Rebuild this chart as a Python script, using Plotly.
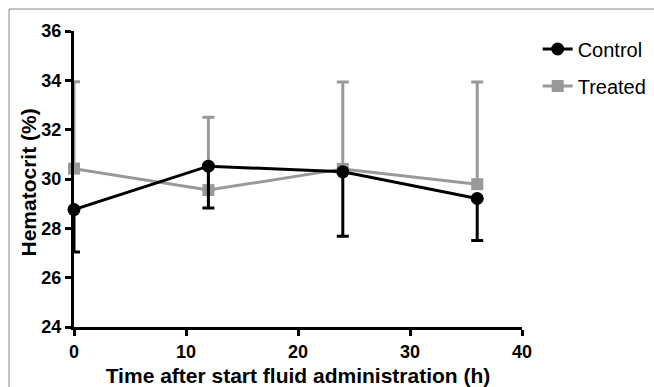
import plotly.graph_objects as go

time_h = [0, 12, 24, 36]
control_mean = [28.76, 30.52, 30.29, 29.21]
control_err_lower = [1.72, 1.70, 2.61, 1.70]
treated_mean = [30.42, 29.55, 30.41, 29.79]
treated_err_upper = [3.52, 2.95, 3.52, 4.14]

y_ticks = [24, 26, 28, 30, 32, 34, 36]
x_ticks = [0, 10, 20, 30, 40]

BLACK = "#000000"
GRAY = "#999999"
FONT = "Liberation Sans, Arial, sans-serif"

fig = go.Figure()
fig.add_trace(go.Scatter(
    x=time_h, y=treated_mean, name="Treated", mode="lines+markers",
    legendgroup="t", legendrank=2,
    line=dict(color=GRAY, width=3),
    marker=dict(symbol="square", size=12, color=GRAY),
    error_y=dict(type="data", symmetric=False, array=treated_err_upper,
                 arrayminus=[0] * len(time_h), color=GRAY, thickness=3, width=6),
    cliponaxis=False,
))
fig.add_trace(go.Scatter(
    x=time_h, y=control_mean, name="Control", mode="lines+markers",
    legendgroup="c", legendrank=1,
    line=dict(color=BLACK, width=3),
    marker=dict(symbol="circle", size=13, color=BLACK),
    error_y=dict(type="data", symmetric=False, array=[0] * len(time_h),
                 arrayminus=control_err_lower, color=BLACK, thickness=3, width=6),
    cliponaxis=False,
))

fig.update_layout(
    width=654, height=387,
    margin=dict(l=74, r=132, t=31, b=60, autoexpand=False),
    paper_bgcolor="white", plot_bgcolor="white",
    font=dict(family=FONT, color="black"),
    showlegend=True,
    legend=dict(x=1.035, y=1.005, xanchor="left", yanchor="top",
                traceorder="grouped", font=dict(size=20, family=FONT),
                bgcolor="rgba(0,0,0,0)", itemwidth=30, tracegroupgap=8),
    xaxis=dict(range=[0, 40], tickvals=x_ticks, ticktext=[str(v) for v in x_ticks],
               showline=True, linecolor=BLACK, linewidth=3, ticks="outside",
               ticklen=6, tickwidth=3, tickcolor=BLACK, showgrid=False, zeroline=False,
               automargin=False,
               tickfont=dict(size=18, family=FONT, weight="bold"),
               title=dict(text="<b>Time after start fluid administration (h)</b>",
                          font=dict(size=21, family=FONT), standoff=8)),
    yaxis=dict(range=[24, 36], tickvals=y_ticks, ticktext=[str(v) for v in y_ticks],
               showline=True, linecolor=BLACK, linewidth=3, ticks="outside",
               ticklen=6, tickwidth=3, tickcolor=BLACK, showgrid=False, zeroline=False,
               automargin=False,
               tickfont=dict(size=18, family=FONT, weight="bold")),
    annotations=[
        dict(text="<b>Hematocrit (%)</b>", xref="paper", yref="paper",
             x=(27.5 - 74) / 448, y=1 - (183 - 31) / 296, xanchor="center", yanchor="middle",
             textangle=-90, showarrow=False, font=dict(size=21, family=FONT, color=BLACK)),
    ],
    shapes=[
        dict(type="line", xref="paper", yref="paper",
             x0=(9 - 74) / 448, x1=(654 - 74) / 448, y0=(327 - 9) / 296, y1=(327 - 9) / 296,
             line=dict(color="#888888", width=1)),
        dict(type="line", xref="paper", yref="paper",
             x0=(9 - 74) / 448, x1=(9 - 74) / 448, y0=(327 - 9) / 296, y1=(327 - 387) / 296,
             line=dict(color="#888888", width=1)),
    ],
)

fig.write_html("out.html")
